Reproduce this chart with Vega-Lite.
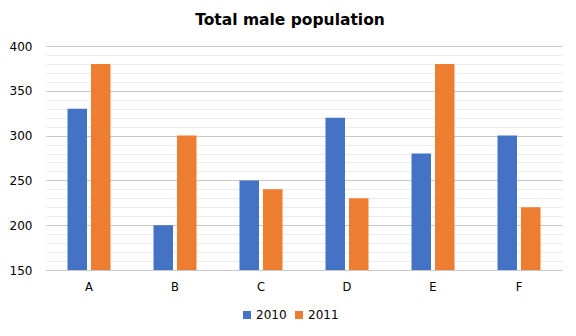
{
  "$schema": "https://vega.github.io/schema/vega-lite/v6.json",
  "width": 516,
  "height": 224,
  "autosize": {"type": "none"},
  "padding": {"left": 46, "right": 14, "top": 46, "bottom": 66},
  "background": "white",
  "title": {"text": "Total male population", "font": "DejaVu Sans", "fontSize": 15.5, "fontWeight": "bold", "color": "#000", "offset": 12, "anchor": "middle", "dx": -14},
  "data": {"values": [
    {"cat": "A", "year": "2010", "value": 330},
    {"cat": "A", "year": "2011", "value": 380},
    {"cat": "B", "year": "2010", "value": 200},
    {"cat": "B", "year": "2011", "value": 300},
    {"cat": "C", "year": "2010", "value": 250},
    {"cat": "C", "year": "2011", "value": 240},
    {"cat": "D", "year": "2010", "value": 320},
    {"cat": "D", "year": "2011", "value": 230},
    {"cat": "E", "year": "2010", "value": 280},
    {"cat": "E", "year": "2011", "value": 380},
    {"cat": "F", "year": "2010", "value": 300},
    {"cat": "F", "year": "2011", "value": 220}
  ]},
  "mark": {"type": "bar", "clip": true},
  "encoding": {
    "x": {"field": "cat", "type": "nominal", "title": null,
      "scale": {"paddingInner": 0.5, "paddingOuter": 0.25},
      "axis": {"labelAngle": 0, "domain": true, "domainColor": "#c8c8c8", "ticks": false, "labelFont": "DejaVu Sans", "labelFontSize": 11.5, "labelColor": "#000", "labelPadding": 11}},
    "xOffset": {"field": "year", "type": "nominal", "scale": {"paddingInner": 0.17}},
    "y": {"field": "value", "type": "quantitative", "title": null,
      "scale": {"domain": [150, 400], "zero": false, "nice": false},
      "axis": {"values": [150,160,170,180,190,200,210,220,230,240,250,260,270,280,290,300,310,320,330,340,350,360,370,380,390,400],
        "labelExpr": "datum.value % 50 === 0 ? datum.label : ''",
        "gridColor": {"condition": {"test": "datum.value % 50 === 0", "value": "#c8c8c8"}, "value": "#ececec"},
        "domain": false, "ticks": false, "labelFont": "DejaVu Sans", "labelFontSize": 12, "labelColor": "#000", "labelPadding": 14}},
    "color": {"field": "year", "type": "nominal", "title": null,
      "scale": {"range": ["#4472C4", "#ED7D31"]},
      "legend": {"orient": "none", "legendX": 195, "legendY": 263, "direction": "horizontal", "symbolType": "square", "symbolSize": 64, "symbolStrokeWidth": 0, "labelFont": "DejaVu Sans", "labelFontSize": 12, "labelColor": "#000", "columnPadding": 6, "labelOffset": 3}}
  },
  "config": {"view": {"stroke": null}}
}
